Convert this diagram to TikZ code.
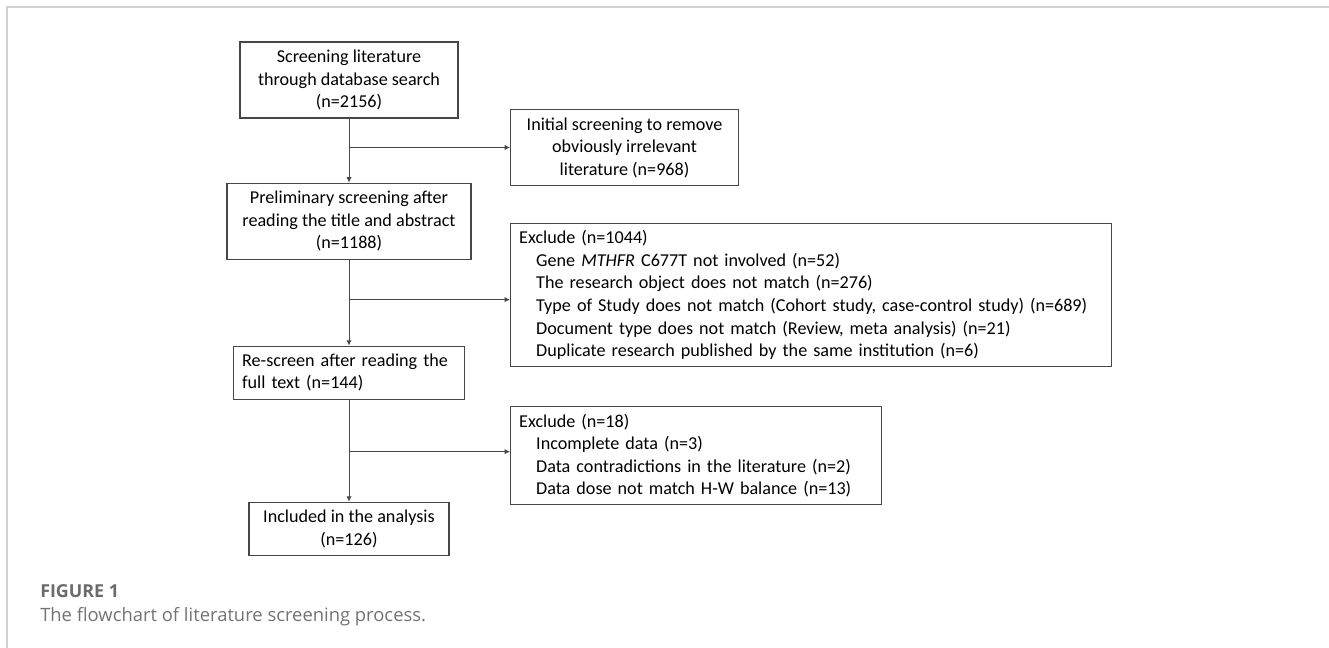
\documentclass[tikz,border=0pt]{standalone}
\usepackage{fontspec}
\setmainfont{Carlito}
\newfontfamily\capfont{Open Sans}
\usetikzlibrary{positioning,arrows.meta}

\tikzset{
	box/.style={draw=black!72, line width=0.8pt, inner sep=0pt, align=center,
		font=\fontsize{13.6pt}{16.9pt}\selectfont},
	lbox/.style={box, align=left, inner xsep=6.5pt},
	link/.style={draw=black!72, line width=0.75pt},
	arr/.style={link, -{Latex[length=4pt,width=4pt]}},
}
\newcommand{\ind}{\hspace*{12.75pt}}

\begin{document}
\begin{tikzpicture}
				\path[use as bounding box] (0,0) rectangle (996.75pt,-486pt);
				\draw[black!18, line width=1.2pt] (5.4pt,-486pt) -- (5.4pt,-5.4pt) -- (996.75pt,-5.4pt);

				\node[box, minimum width=163.5pt, minimum height=57pt] (b1) at (261.75pt,-60pt)
					{Screening literature\\through database search\\(n=2156)};
				\coordinate[below=21.75pt of b1] (m1);
				\node[box, below=48pt of b1, minimum width=183pt, minimum height=57pt] (b2)
					{Preliminary screening after\\reading the title and abstract\\(n=1188)};
				\coordinate[below=30pt of b2] (m2);
				\node[lbox, below=64.5pt of b2, text width=160.25pt, minimum height=39.75pt] (b3)
					{Re-screen after reading the\\full text (n=144)};
				\coordinate[below=39pt of b3] (m3);
				\node[box, below=76.5pt of b3, minimum width=150pt, minimum height=39.75pt] (b4)
					{Included in the analysis\\(n=126)};

				\node[box, right=120.75pt of m1, minimum width=171pt, minimum height=57pt] (e1)
					{Initial screening to remove\\obviously irrelevant\\literature (n=968)};
				\node[lbox, right=120.75pt of m2, yshift=3.4pt, text width=437.75pt, minimum height=107.25pt] (e2)
					{Exclude (n=1044)\\
					\ind Gene \textit{MTHFR} C677T not involved (n=52)\\
					\ind The research object does not match (n=276)\\
					\ind Type of Study does not match (Cohort study, case-control study) (n=689)\\
					\ind Document type does not match (Review, meta analysis) (n=21)\\
					\ind Duplicate research published by the same institution (n=6)};
				\node[lbox, right=120.75pt of m3, yshift=-3pt, text width=265.25pt, minimum height=73.5pt] (e3)
					{Exclude (n=18)\\
					\ind Incomplete data (n=3)\\
					\ind Data contradictions in the literature (n=2)\\
					\ind Data dose not match H-W balance (n=13)};

				\draw[arr] (b1) -- (b2);
				\draw[arr] (b2) -- (b3);
				\draw[arr] (b3) -- (b4);
				\draw[arr] (m1) -- (m1 -| e1.west);
				\draw[arr] (m2) -- (m2 -| e2.west);
				\draw[arr] (m3) -- (m3 -| e3.west);

				\node[anchor=base west, inner sep=0pt, text=black!58, font=\capfont\bfseries\fontsize{13.4pt}{16pt}\selectfont] (fig) at (30pt,-448pt) {FIGURE 1};
				\node[anchor=base west, inner sep=0pt, text=black!55, font=\capfont\fontsize{13.8pt}{16pt}\selectfont] (cap) at (30pt,-466pt) {The flowchart of literature screening process.};
\end{tikzpicture}
\end{document}
